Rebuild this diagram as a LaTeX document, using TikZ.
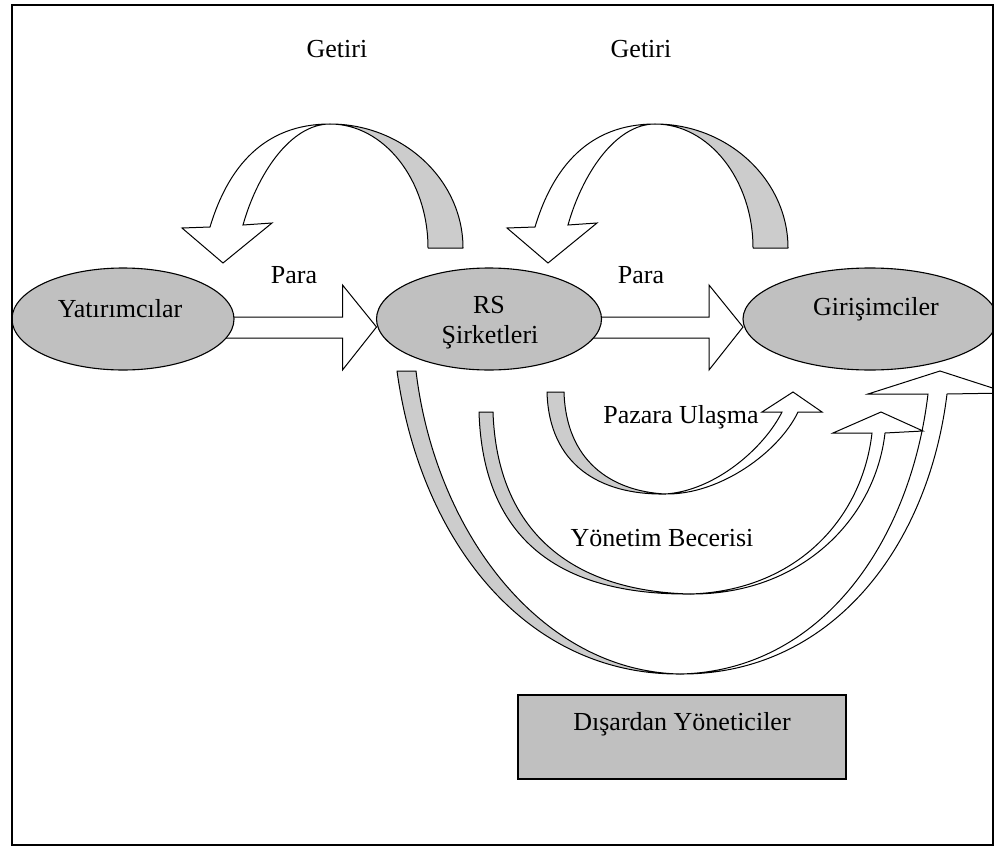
\documentclass[tikz,border=0pt]{standalone}
\usepackage{fontspec}
\setmainfont{Liberation Serif}
\usetikzlibrary{shapes.geometric,calc}
\pgfdeclarelayer{behind}
\pgfsetlayers{behind,main}
\definecolor{ovalgray}{HTML}{C0C0C0}
\definecolor{bandgray}{HTML}{CCCCCC}
\begin{document}
\begin{tikzpicture}[x=1pt,y=-1pt,
  lbl/.style={font=\fontsize{26}{30}\selectfont, anchor=base, inner sep=0pt},
  oval/.style={ellipse, draw, fill=ovalgray, line width=1.1pt, inner sep=0pt, outer sep=0pt},
  band/.style={draw, fill=bandgray, line width=1pt, line join=round},
  whiteband/.style={draw, fill=white, line width=1pt, line join=miter},
  boxstyle/.style={draw, fill=ovalgray, line width=1.3pt, inner sep=0pt}
]
\useasboundingbox (0,0) rectangle (995,848);
\begin{scope}
\clip (12,5) rectangle (993,845);

% top curved arrows (Getiri)
\newcommand{\getiriarrow}{%
  \draw[band] (463,248) .. controls (463,180) and (403,124) .. (330,124)
     .. controls (384,124) and (428,180) .. (428,248) -- cycle;
  \draw[whiteband] (330,124) .. controls (264,124) and (228,167) .. (210,227)
     -- (182,228) -- (223,263) -- (272,223) -- (243,225)
     .. controls (257,175) and (290,124) .. (330,124) -- cycle;
}
\getiriarrow
\begin{scope}[xshift=325pt]
\getiriarrow
\end{scope}

% ellipses
\node[oval, minimum width=222pt, minimum height=102pt] (yat) at (123,319) {};
\node[oval, minimum width=225pt, minimum height=102pt] (rs) at (489,319) {};
\node[oval, minimum width=254pt, minimum height=102pt] (gir) at (870,319) {};

% Para arrows (behind the ellipses)
\begin{pgfonlayer}{behind}
\draw[whiteband] ($(yat.east)+(-14,-2)$) -- ($(rs.west)+(-34,-2)$) -- ($(rs.west)+(-34,-34)$)
  -- ($(rs.west)+(0,8)$) -- ($(rs.west)+(-34,51)$) -- ($(rs.west)+(-34,19)$)
  -- ($(yat.east)+(-14,19)$) -- cycle;
\draw[whiteband] ($(rs.east)+(-12,-2)$) -- ($(gir.west)+(-34,-2)$) -- ($(gir.west)+(-34,-34)$)
  -- ($(gir.west)+(0,8)$) -- ($(gir.west)+(-34,51)$) -- ($(gir.west)+(-34,19)$)
  -- ($(rs.east)+(-12,19)$) -- cycle;
\end{pgfonlayer}

% bottom curved arrows
% big (Disardan)
\draw[band] (397,371) .. controls (420,539) and (524,675) .. (680,674)
   .. controls (540,671) and (435,531) .. (416,371) -- cycle;
\draw[whiteband] (680,674) .. controls (830,675) and (928,549) .. (947,394)
   -- (1008,393) -- (940,371) -- (868,394) -- (928,394)
   .. controls (910,544) and (820,671) .. (680,674) -- cycle;
% middle (Yonetim Becerisi)
\draw[band] (479,412) .. controls (483,540) and (560,595) .. (690,594)
   .. controls (570,591) and (497,530) .. (493,412) -- cycle;
\draw[whiteband] (690,594) .. controls (800,595) and (875,520) .. (885,433)
   -- (923,431) -- (881,412) -- (833,433) -- (872,433)
   .. controls (862,520) and (795,591) .. (690,594) -- cycle;
% small (Pazara Ulasma)
\draw[band] (547,392) .. controls (549,465) and (600,495) .. (665,494)
   .. controls (610,491) and (566,460) .. (564,392) -- cycle;
\draw[whiteband] (665,494) .. controls (720,495) and (779,452) .. (798,412)
   -- (822,412) -- (793,392) -- (762,412) -- (782,412)
   .. controls (764,448) and (715,491) .. (665,494) -- cycle;

% box
\node[boxstyle, minimum width=328pt, minimum height=84pt] (dis) at (682,737) {};

% labels
\node[lbl] (get1) at (337,58) {Getiri};
\node[lbl] (get2) at (641,58) {Getiri};
\node[lbl] (para1) at (294,283) {Para};
\node[lbl] (para2) at (641,283) {Para};
\node[lbl] (tyat) at (120,317) {Yatırımcılar};
\node[lbl] (trs1) at (489,313) {RS};
\node[lbl] (trs2) at (490,343) {Şirketleri};
\node[lbl] (tgir) at (876,315) {Girişimciler};
\node[lbl] (tpaz) at (681,423) {Pazara Ulaşma};
\node[lbl] (tyon) at (662,546) {Yönetim Becerisi};
\node[lbl] (tdis) at (682,730) {Dışardan Yöneticiler};
\end{scope}
\draw[line width=2pt] (12,5) rectangle (993,845);
\end{tikzpicture}
\end{document}
